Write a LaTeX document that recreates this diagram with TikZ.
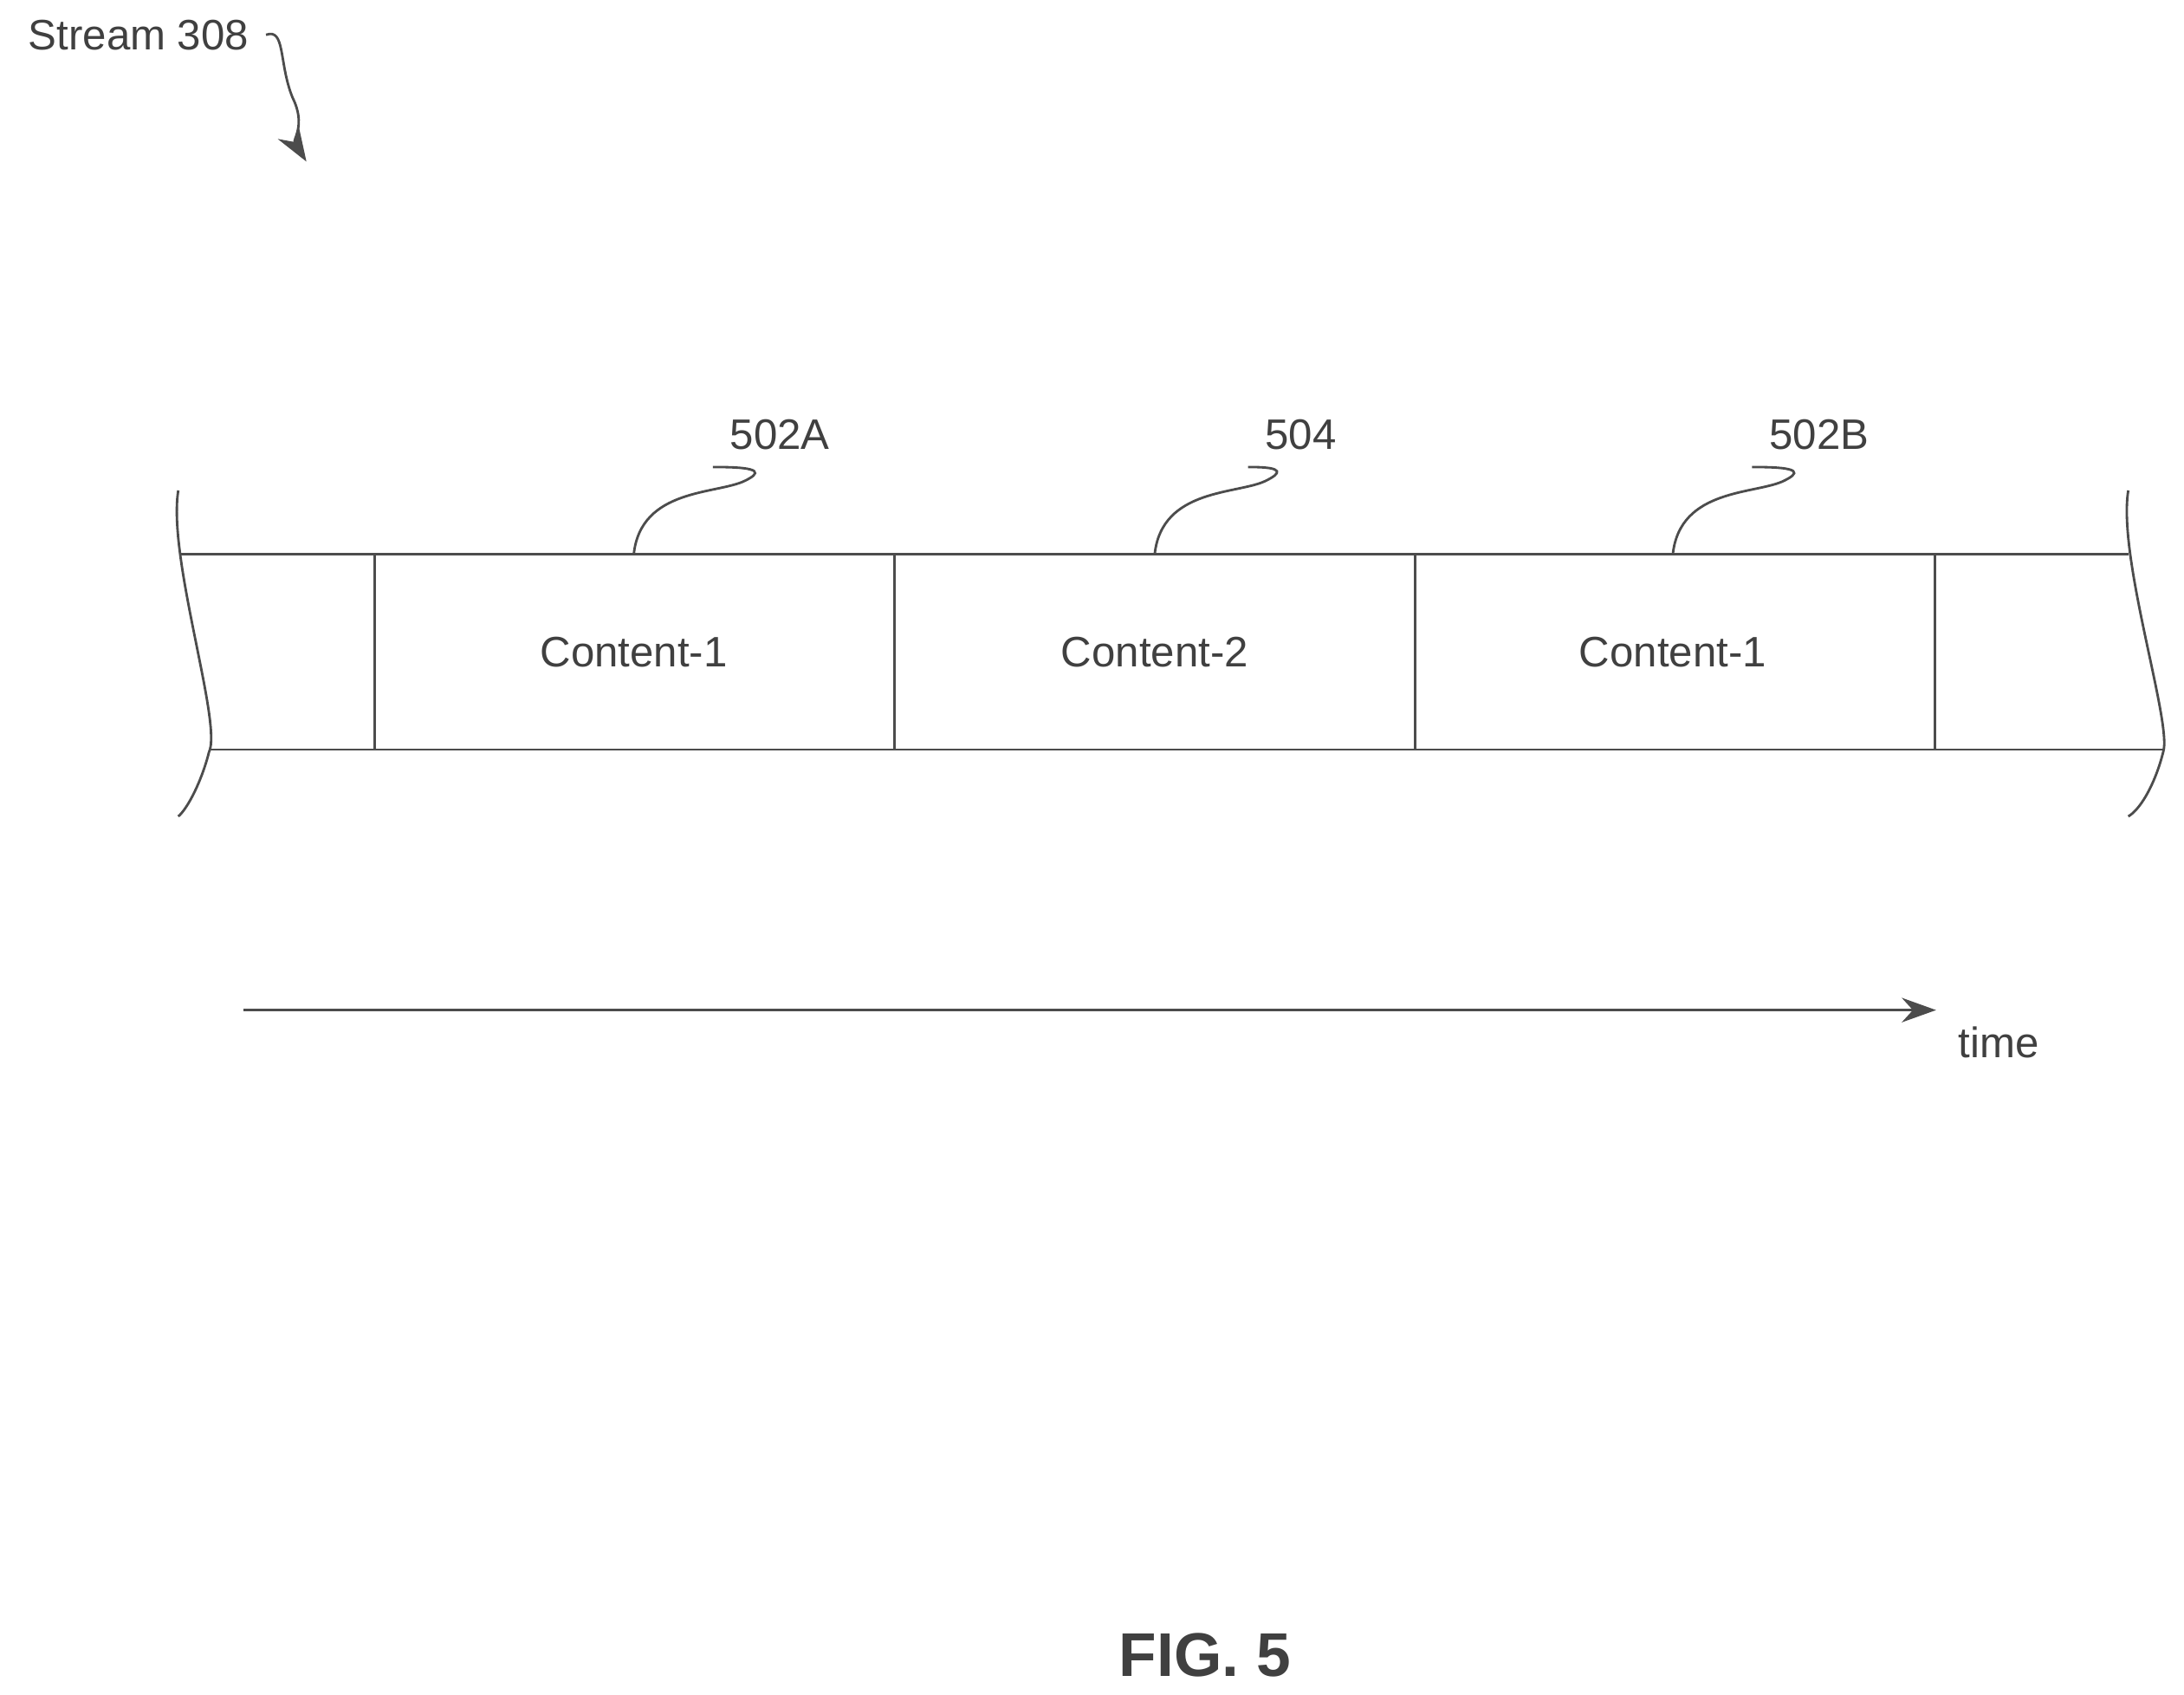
\documentclass[tikz,border=0pt]{standalone}
\usepackage{fontspec}
\setmainfont{Liberation Sans}
\usetikzlibrary{arrows.meta}
\tikzset{>={Stealth[width=5pt,length=7pt]}}
\tikzset{lbl/.style={font=\fontsize{8.7}{10}\selectfont, text=black!75},
         seg/.style={draw=black!70, line width=0.5pt}}

\begin{document}
\begin{tikzpicture}[x=0.01cm, y=-0.01cm]
  \useasboundingbox (0,0) rectangle (1568,1216);

  % stream reference
  \node[lbl, anchor=west] (strm) at (8,25) {Stream 308};
  \coordinate (strmtip) at (220,116);
  \draw[seg, ->] (strm.east) .. controls (205,20) and (200,45) .. (210,70)
     .. controls (220,90) and (210,100) .. (strmtip);

  % band
  \draw[seg] (130,398) -- (1528,398);
  \draw[seg] (150,538) -- (1553,538);
  \draw[seg] (128,352) .. controls (120,400) and (160,520) .. (150,540)
     .. controls (145,560) and (135,580) .. (128,586);
  \draw[seg] (1528,352) .. controls (1520,400) and (1560,520) .. (1553,540)
     .. controls (1548,560) and (1538,580) .. (1528,586);
  \foreach \xx in {269,642,1016,1389}
    \draw[seg] (\xx,398) -- (\xx,538);

  % contents
  \node[lbl] (c1a) at (455,468) {Content-1};
  \node[lbl] (c2)  at (829,468) {Content-2};
  \node[lbl] (c1b) at (1201,468) {Content-1};

  % labels with leaders
  \foreach \nm/\xx/\txt in {la/455/502A, lb/829/504, lc/1201/502B}{
    \node[lbl] (\nm) at (\xx+105,312) {\txt};
    \draw[seg] (\xx,398) .. controls (\xx+5,350) and (\xx+60,355) .. (\xx+80,345)
       .. controls (\xx+90,340) and (\xx+95,335) .. (\nm.south west);
  }

  % time axis
  \coordinate (t0) at (175,725);
  \coordinate (t1) at (1390,725);
  \draw[seg, ->] (t0) -- (t1);
  \node[lbl] (tm) at (1435,748) {time};

  \node[font=\bfseries\fontsize{12.6}{14}\selectfont, text=black!75] (fig) at (865,1188) {FIG. 5};
\end{tikzpicture}
\end{document}
